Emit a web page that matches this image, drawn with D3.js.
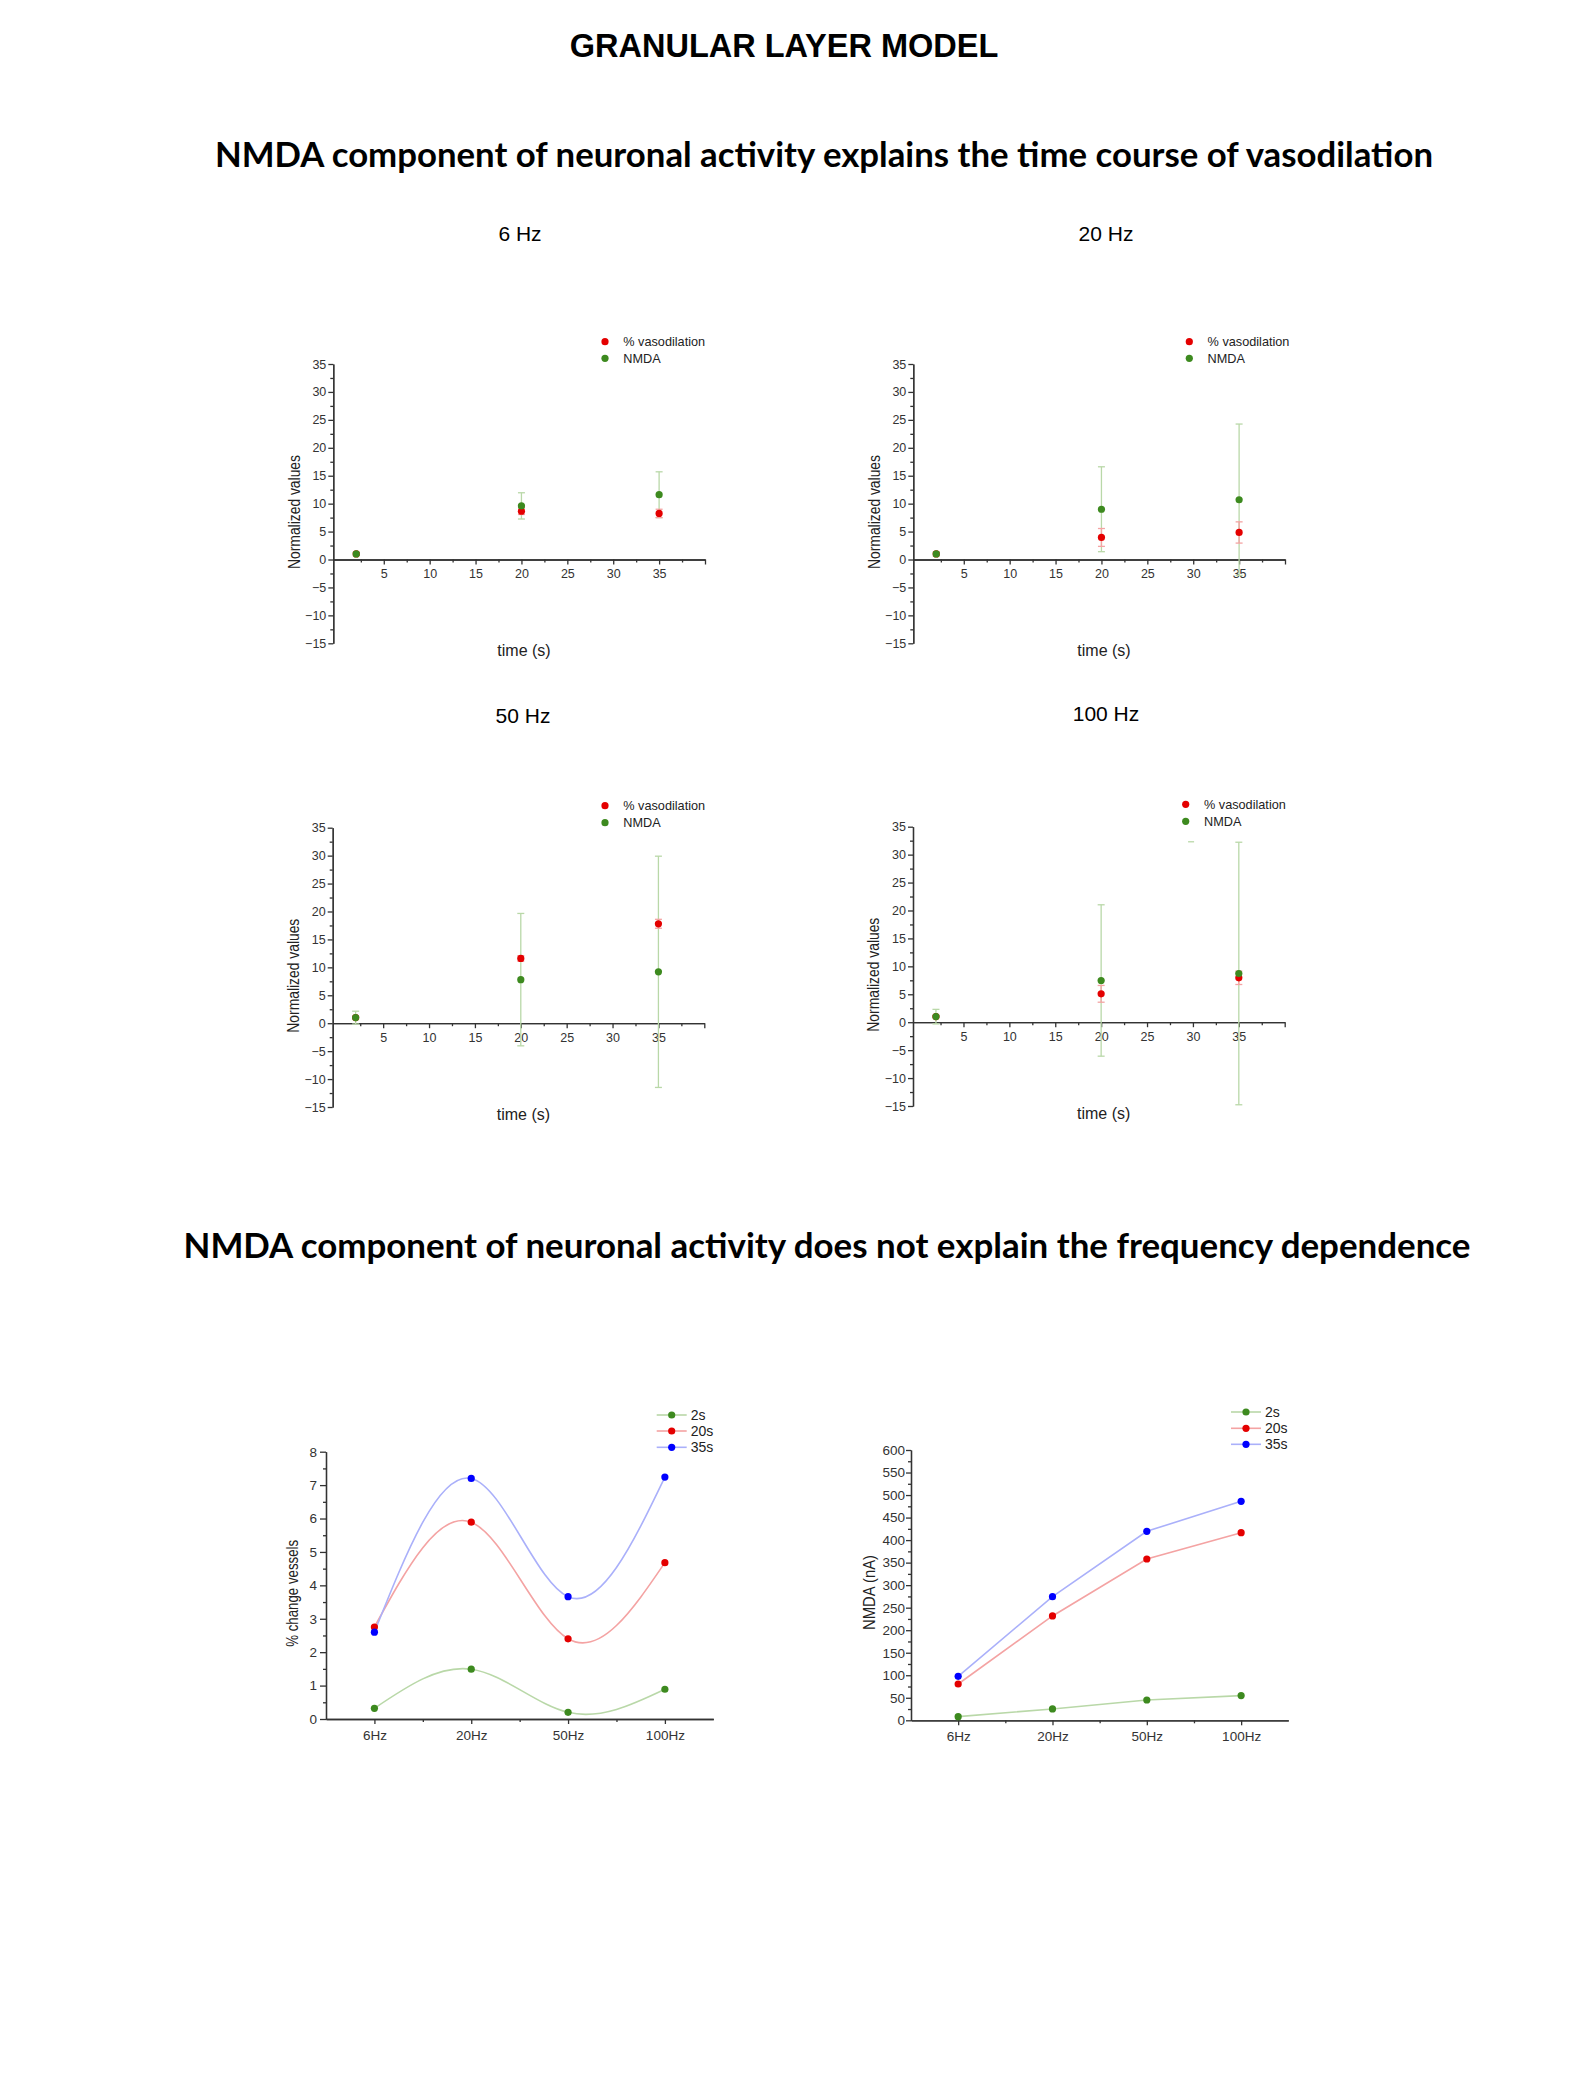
<!DOCTYPE html>
<html>
<head>
<meta charset="utf-8">
<script src="https://cdn.jsdelivr.net/npm/d3@7"></script>
<style>
  body { margin: 0; background: #fff; }
  svg { display: block; }
</style>
</head>
<body>
<svg id="fig" width="1575" height="2100"></svg>
<script>
// ---- data ----
const timePoints = [2, 20, 35];
const panelTitles = ["6 Hz", "20 Hz", "50 Hz", "100 Hz"];

const vaso6 = [1, 8.66, 8.25];
const vasoErr6 = [0.2, 0.6, 0.75];
const nmda6 = [1, 9.6, 11.6];
const nmdaErr6 = [0.3, 2.35, 4.1];

const vaso20 = [1, 3.95, 4.84];
const vasoErr20 = [0.2, 1.6, 1.9];
const nmda20 = [1, 9.0, 10.7];
const nmdaErr20 = [0.4, 7.6, 13.55];

const vaso50 = [1, 11.6, 17.8];
const vasoErr50 = [0.2, 0.5, 0.8];
const nmda50 = [1, 7.8, 9.2];
const nmdaErr50 = [1.15, 11.85, 20.7];

const vaso100 = [1, 5.08, 7.95];
const vasoErr100 = [0.2, 1.5, 1.2];
const nmda100 = [1, 7.47, 8.72];
const nmdaErr100 = [1.3, 13.55, 23.5];

// odd lone cap in the 100 Hz panel
const strayCap100 = [{ x: 29.8, y: 32.3 }];

const timeTicks = [5, 10, 15, 20, 25, 30, 35, 40];
const valueTicks = [-15, -10, -5, 0, 5, 10, 15, 20, 25, 30, 35];

const freqLabels = ["6Hz", "20Hz", "50Hz", "100Hz"];
const seriesNames = ["2s", "20s", "35s"];
const vessel2s = [0.32, 1.49, 0.2, 0.89];
const vessel20s = [2.75, 5.89, 2.4, 4.68];
const vessel35s = [2.6, 7.2, 3.66, 7.24];
const nmdaA2s = [8.1, 25.2, 45.1, 54.8];
const nmdaA20s = [80.6, 231.6, 358.1, 416.5];
const nmdaA35s = [97.7, 274.5, 419.5, 486.1];

// ---- styles ----
const RED = "#e40000", GREEN = "#3d8a1f", BLUE = "#0000ff";
const RED_L = "#f4a3a3", GREEN_L = "#b9d8a8", BLUE_L = "#aab0fa";
const AX = "#333";
const ARIAL = "'Liberation Sans', Arial, sans-serif";

const svg = d3.select("#fig");

svg.append("text").attr("x", 784).attr("y", 57).attr("text-anchor", "middle")
  .style("font-family", ARIAL).style("font-weight", "bold").style("font-size", "32.5px")
  .text("GRANULAR LAYER MODEL");

function heading(txt, cx, y, len) {
  svg.append("text").attr("x", cx).attr("y", y).attr("text-anchor", "middle")
    .attr("textLength", len).attr("lengthAdjust", "spacingAndGlyphs")
    .style("font-family", "Lato, 'Open Sans', sans-serif").style("font-weight", "bold")
    .style("font-size", "34px")
    .text(txt);
}
heading("NMDA component of neuronal activity explains the time course of vasodilation", 824, 167, 1218);
heading("NMDA component of neuronal activity does not explain the frequency dependence", 827, 1258, 1287);

function styleAxis(sel, fs) {
  sel.selectAll("path, line").attr("stroke", AX).attr("stroke-width", 1.3);
  sel.selectAll("text").attr("fill", AX).style("font-family", ARIAL).style("font-size", fs + "px");
  sel.attr("font-family", null).attr("font-size", null);
}

// ---- time-course panels ----
const panels = [
  { x0: 333.3, x1: 705, y0: 364, y1: 643.3, title: [520, 241], leg: [605, 341.7, 358.3],
    vaso: vaso6, vErr: vasoErr6, nmda: nmda6, nErr: nmdaErr6, stray: [] },
  { x0: 913.3, x1: 1285, y0: 364, y1: 643.3, title: [1106, 241], leg: [1189.3, 341.7, 358.3],
    vaso: vaso20, vErr: vasoErr20, nmda: nmda20, nErr: nmdaErr20, stray: [] },
  { x0: 332.7, x1: 704.3, y0: 827.7, y1: 1107, title: [523, 723], leg: [605, 805.7, 822.7],
    vaso: vaso50, vErr: vasoErr50, nmda: nmda50, nErr: nmdaErr50, stray: [] },
  { x0: 913, x1: 1284.7, y0: 826.7, y1: 1106, title: [1106, 721], leg: [1185.7, 804.3, 821.3],
    vaso: vaso100, vErr: vasoErr100, nmda: nmda100, nErr: nmdaErr100, stray: strayCap100 }
];

panels.forEach((p, k) => {
  const x = d3.scaleLinear().domain([-0.5, 40]).range([p.x0, p.x1]);
  const y = d3.scaleLinear().domain([-15, 35]).range([p.y1, p.y0]);
  const g = svg.append("g");

  g.append("text").attr("x", p.title[0]).attr("y", p.title[1]).attr("text-anchor", "middle")
    .style("font-family", ARIAL).style("font-size", "21px").text(panelTitles[k]);

  // y axis
  g.append("g").attr("transform", `translate(${p.x0},0)`)
    .call(d3.axisLeft(y).tickValues(d3.range(-12.5, 35, 5)).tickSize(3).tickFormat("").tickSizeOuter(0))
    .call(s => styleAxis(s, 12.5));
  g.append("g").attr("transform", `translate(${p.x0},0)`)
    .call(d3.axisLeft(y).tickValues(valueTicks).tickSize(5).tickPadding(2).tickSizeOuter(0))
    .call(s => styleAxis(s, 12.5));

  // x axis crossing at zero
  g.append("g").attr("transform", `translate(0,${y(0)})`)
    .call(d3.axisBottom(x).tickValues(d3.range(2.5, 40, 5)).tickSize(3).tickFormat("").tickSizeOuter(0))
    .call(s => styleAxis(s, 12.5));
  g.append("g").attr("transform", `translate(0,${y(0)})`)
    .call(d3.axisBottom(x).tickValues(timeTicks).tickSize(5).tickPadding(5)
      .tickFormat(d => d <= 35 ? d : "").tickSizeOuter(0))
    .call(s => styleAxis(s, 12.5));

  g.append("text")
    .attr("transform", `translate(${p.x0 - 39.3},${p.y0 + 148}) rotate(-90)`)
    .attr("dy", "0.35em").attr("text-anchor", "middle")
    .attr("textLength", 114).attr("lengthAdjust", "spacingAndGlyphs")
    .style("font-family", ARIAL).style("font-size", "16px").attr("fill", "#222")
    .text("Normalized values");
  g.append("text").attr("x", p.x0 + 190.7).attr("y", p.y0 + 292).attr("text-anchor", "middle")
    .style("font-family", ARIAL).style("font-size", "16px").attr("fill", "#222")
    .text("time (s)");

  const series = [
    { v: p.vaso, e: p.vErr, c: RED, cl: RED_L },
    { v: p.nmda, e: p.nErr, c: GREEN, cl: GREEN_L }
  ];
  // error bars first
  series.slice().reverse().forEach(s => {
    const eg = g.append("g").attr("stroke", s.cl).attr("stroke-width", 1.3);
    timePoints.forEach((t, i) => {
      const cx = x(t), lo = y(s.v[i] - s.e[i]), hi = y(s.v[i] + s.e[i]);
      eg.append("line").attr("x1", cx).attr("x2", cx).attr("y1", lo).attr("y2", hi);
      eg.append("line").attr("x1", cx - 3.5).attr("x2", cx + 3.5).attr("y1", lo).attr("y2", lo);
      eg.append("line").attr("x1", cx - 3.5).attr("x2", cx + 3.5).attr("y1", hi).attr("y2", hi);
    });
  });
  p.stray.forEach(c => {
    g.append("line").attr("x1", x(c.x) - 3).attr("x2", x(c.x) + 3)
      .attr("y1", y(c.y)).attr("y2", y(c.y)).attr("stroke", GREEN_L).attr("stroke-width", 1.3);
  });
  series.forEach(s => {
    g.append("g").selectAll("circle").data(s.v).join("circle")
      .attr("cx", (d, i) => x(timePoints[i])).attr("cy", d => y(d)).attr("r", 3.6)
      .attr("fill", s.c);
  });

  // legend
  [["% vasodilation", RED], ["NMDA", GREEN]].forEach(([lab, c], i) => {
    const ly = p.leg[1 + i];
    g.append("circle").attr("cx", p.leg[0]).attr("cy", ly).attr("r", 3.6).attr("fill", c);
    g.append("text").attr("x", p.leg[0] + 18.3).attr("y", ly).attr("dy", "0.35em")
      .style("font-family", ARIAL).style("font-size", "12.7px").attr("fill", "#222").text(lab);
  });
});

// ---- frequency panels ----
function freqPanel(o) {
  const x = d3.scaleLinear().domain([0.5, 4.5]).range([o.x0, o.x1]);
  const y = d3.scaleLinear().domain([0, o.yMax]).range([o.y1, o.y0]);
  const g = svg.append("g");

  g.append("g").attr("transform", `translate(${o.x0},0)`)
    .call(d3.axisLeft(y).tickValues(o.minor).tickSize(3).tickFormat("").tickSizeOuter(0))
    .call(s => styleAxis(s, 13.5));
  g.append("g").attr("transform", `translate(${o.x0},0)`)
    .call(d3.axisLeft(y).tickValues(o.major).tickSize(o.tick).tickPadding(o.pad).tickSizeOuter(0))
    .call(s => styleAxis(s, 13.5));

  g.append("g").attr("transform", `translate(0,${o.y1})`)
    .call(d3.axisBottom(x).tickValues([1.5, 2.5, 3.5]).tickSize(3).tickFormat("").tickSizeOuter(0))
    .call(s => styleAxis(s, 13.5));
  g.append("g").attr("transform", `translate(0,${o.y1})`)
    .call(d3.axisBottom(x).tickValues([1, 2, 3, 4]).tickSize(5).tickPadding(6)
      .tickFormat(d => freqLabels[d - 1]).tickSizeOuter(0))
    .call(s => styleAxis(s, 13.5));

  g.append("text")
    .attr("transform", `translate(${o.title[0]},${o.title[1]}) rotate(-90)`)
    .attr("dy", "0.35em").attr("text-anchor", "middle")
    .attr("textLength", o.title[2]).attr("lengthAdjust", "spacingAndGlyphs")
    .style("font-family", ARIAL).style("font-size", "16px").attr("fill", "#222")
    .text(o.label);

  const line = d3.line().x((d, i) => x(i + 1)).y(d => y(d)).curve(o.curve);
  const cols = [[GREEN, GREEN_L], [RED, RED_L], [BLUE, BLUE_L]];
  o.series.forEach((s, k) => {
    g.append("path").attr("d", line(s)).attr("fill", "none")
      .attr("stroke", cols[k][1]).attr("stroke-width", 1.6);
  });
  o.series.forEach((s, k) => {
    g.append("g").selectAll("circle").data(s).join("circle")
      .attr("cx", (d, i) => x(i + 1)).attr("cy", d => y(d)).attr("r", 3.6)
      .attr("fill", cols[k][0]);
  });

  seriesNames.forEach((n, k) => {
    const ly = o.leg[1 + k];
    g.append("line").attr("x1", o.leg[0] - 15).attr("x2", o.leg[0] + 15)
      .attr("y1", ly).attr("y2", ly).attr("stroke", cols[k][1]).attr("stroke-width", 1.6);
    g.append("circle").attr("cx", o.leg[0]).attr("cy", ly).attr("r", 3.6).attr("fill", cols[k][0]);
    g.append("text").attr("x", o.leg[0] + 19).attr("y", ly).attr("dy", "0.35em")
      .style("font-family", ARIAL).style("font-size", "14px").attr("fill", "#222").text(n);
  });
}

freqPanel({
  x0: 326, x1: 713.3, y0: 1451.7, y1: 1719, yMax: 8,
  major: d3.range(0, 9, 1), minor: d3.range(0.5, 8, 1), tick: 6, pad: 3,
  label: "% change vessels", title: [292.7, 1593.3, 107],
  series: [vessel2s, vessel20s, vessel35s], curve: d3.curveNatural,
  leg: [671.7, 1415, 1431, 1447.3]
});
freqPanel({
  x0: 911, x1: 1288.3, y0: 1450, y1: 1720.3, yMax: 600,
  major: d3.range(0, 601, 50), minor: d3.range(25, 600, 50), tick: 5, pad: 1,
  label: "NMDA (nA)", title: [869, 1592.5, 75],
  series: [nmdaA2s, nmdaA20s, nmdaA35s], curve: d3.curveLinear,
  leg: [1246, 1412, 1428.3, 1444.3]
});
</script>
</body>
</html>
